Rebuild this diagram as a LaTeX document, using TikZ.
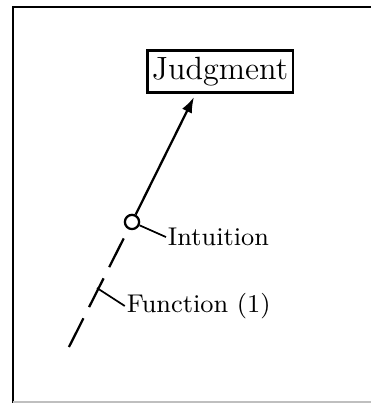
\documentclass[tikz,border=0pt]{standalone}
\usetikzlibrary{arrows.meta}

\begin{document}
\begin{tikzpicture}
    \useasboundingbox (0, 0) rectangle (4.578, 4.973);

    % Frame
    \draw[thick] (0.16, 0) -- (0.16, 4.887) -- (4.578, 4.887);
    \draw[gray!50, thin] (0.16, 0.012) -- (4.578, 0.012);

    % Nodes
    \node[draw, thick, font=\fontsize{11.3}{13}\selectfont, inner xsep=1.6pt, inner ysep=2.3pt] (judgment) at (2.715, 4.091) {Judgment};
    \node[draw, thick, circle, minimum size=5pt, inner sep=0pt] (intuition) at (1.629, 2.234) {};
    \node[font=\small, anchor=west, inner sep=0.5pt] (intlabel) at (2.048, 2.048) {Intuition};
    \node[font=\small, anchor=west, inner sep=0.5pt] (funlabel) at (1.540, 1.197) {Function (1)};

    % Points on the line
    \coordinate (jtip) at (2.394, 3.776);
    \coordinate (tail) at (0.851, 0.691);
    \coordinate (fun) at (1.197, 1.419);

    % Lines
    \draw[thick, -{Latex[length=5.5pt, width=3.8pt]}] (intuition) -- (jtip);
    \draw[thick, dash pattern=on 11.3pt off 4.4pt] (tail) -- (intuition);
    \draw[semithick] (intuition) -- (intlabel.west);
    \draw[semithick] (fun) -- (funlabel.west);
\end{tikzpicture}
\end{document}
